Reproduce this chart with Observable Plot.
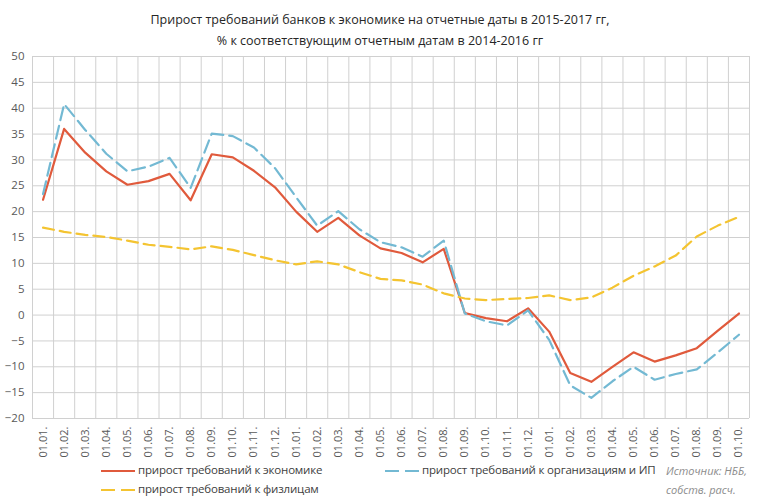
<!DOCTYPE html>
<html>
<head>
<meta charset="utf-8">
<script src="https://cdn.jsdelivr.net/npm/d3@7"></script>
<script src="https://cdn.jsdelivr.net/npm/@observablehq/plot@0.6"></script>
<style>
  html, body { margin: 0; padding: 0; background: #fff; }
  #wrap { position: relative; width: 760px; height: 502px; font-family: "Open Sans", sans-serif; overflow: hidden; }
  #title { position: absolute; left: 0; top: 9px; width: 760px; text-align: center; font-size: 12.5px; line-height: 21px; color: #262626; }
  #chart { position: absolute; left: 0; top: 0; }
  .leg { position: absolute; font-size: 11.5px; letter-spacing: -0.18px; color: #404040; white-space: nowrap; }
  .leg svg { vertical-align: middle; margin-right: 3px; }
  #src { position: absolute; left: 666px; top: 461px; font-size: 11px; font-style: italic; color: #8c8c8c; line-height: 19px; }
</style>
</head>
<body>
<div id="wrap">
  <div id="chart"></div>
  <div id="title">Прирост требований банков к экономике на отчетные даты в 2015-2017 гг,<br>% к соответствующим отчетным датам в 2014-2016 гг</div>
  <div id="legend"></div>
  <div id="src">Источник: НББ,<br>собств. расч.</div>
</div>
<script>
const labels = [
  "01.01.","01.02.","01.03.","01.04.","01.05.","01.06.","01.07.","01.08.","01.09.","01.10.","01.11.","01.12.",
  "01.01.","01.02.","01.03.","01.04.","01.05.","01.06.","01.07.","01.08.","01.09.","01.10.","01.11.","01.12.",
  "01.01.","01.02.","01.03.","01.04.","01.05.","01.06.","01.07.","01.08.","01.09.","01.10."
];
const economy = [22.3, 36.0, 31.4, 27.8, 25.2, 25.9, 27.3, 22.2, 31.1, 30.5, 27.9, 24.7,
  20.0, 16.1, 18.8, 15.4, 12.9, 12.0, 10.2, 12.8, 0.4, -0.6, -1.2, 1.3,
  -3.2, -11.2, -12.9, -10.0, -7.2, -9.0, -7.8, -6.4, -3.0, 0.3];
const organizations = [23.4, 40.8, 35.8, 31.2, 27.8, 28.7, 30.4, 24.6, 35.1, 34.6, 32.4, 28.4,
  22.8, 17.3, 20.1, 16.6, 14.1, 13.1, 11.3, 14.4, 0.3, -1.2, -2.0, 0.9,
  -4.8, -13.6, -16.0, -12.8, -10.0, -12.5, -11.4, -10.5, -7.2, -3.8];
const individuals = [16.9, 16.1, 15.5, 15.1, 14.4, 13.6, 13.2, 12.7, 13.3, 12.6, 11.6, 10.6,
  9.8, 10.4, 9.8, 8.3, 7.0, 6.7, 5.9, 4.2, 3.2, 2.9, 3.1, 3.3,
  3.8, 2.9, 3.4, 5.3, 7.6, 9.4, 11.5, 15.2, 17.3, 19.0];
const yTicks = d3.range(-20, 51, 5);

const series = [
  {name: "прирост требований к экономике", values: economy, color: "#e05a3c", dash: null},
  {name: "прирост требований к организациям и ИП", values: organizations, color: "#73b9d3", dash: "13,6"},
  {name: "прирост требований к физлицам", values: individuals, color: "#f4c431", dash: "11,6"}
];

const idx = d3.range(labels.length);
const boundaries = d3.range(labels.length + 1).map(i => i - 0.5);
const rows = s => s.values.map((v, i) => ({i, v}));

const chart = Plot.plot({
  width: 760,
  height: 466,
  marginLeft: 32,
  marginRight: 11,
  marginTop: 56,
  marginBottom: 48,
  style: {fontFamily: "Open Sans, sans-serif", background: "transparent"},
  x: {domain: [-0.5, labels.length - 0.5]},
  y: {domain: [-20, 50]},
  marks: [
    Plot.ruleY(yTicks, {stroke: "#d0d0d0", strokeWidth: 1}),
    Plot.ruleX(boundaries, {stroke: "#d0d0d0", strokeWidth: 1}),
    Plot.axisY({ticks: yTicks, tickSize: 0, tickPadding: 8, fontSize: 11.5, fill: "#595959", label: null}),
    Plot.axisX({ticks: idx, tickFormat: i => labels[i], tickRotate: -90, tickSize: 0, tickPadding: 8, fontSize: 11, fill: "#595959", label: null}),
    ...series.map(s => Plot.line(rows(s), {x: "i", y: "v", stroke: s.color, strokeWidth: 2.2, strokeDasharray: s.dash, strokeLinejoin: "round"}))
  ]
});
document.getElementById("chart").appendChild(chart);

// legend
const legendPos = [
  {left: 101, top: 462},
  {left: 385, top: 462},
  {left: 101, top: 481}
];
const legend = document.getElementById("legend");
series.forEach((s, k) => {
  const div = document.createElement("div");
  div.className = "leg";
  div.style.left = legendPos[k].left + "px";
  div.style.top = legendPos[k].top + "px";
  const dash = s.dash ? `stroke-dasharray="14,6"` : "";
  div.innerHTML = `<svg width="34" height="6"><line x1="0" y1="3" x2="34" y2="3" stroke="${s.color}" stroke-width="2.2" ${dash}/></svg>${s.name}`;
  legend.appendChild(div);
});
</script>
</body>
</html>
